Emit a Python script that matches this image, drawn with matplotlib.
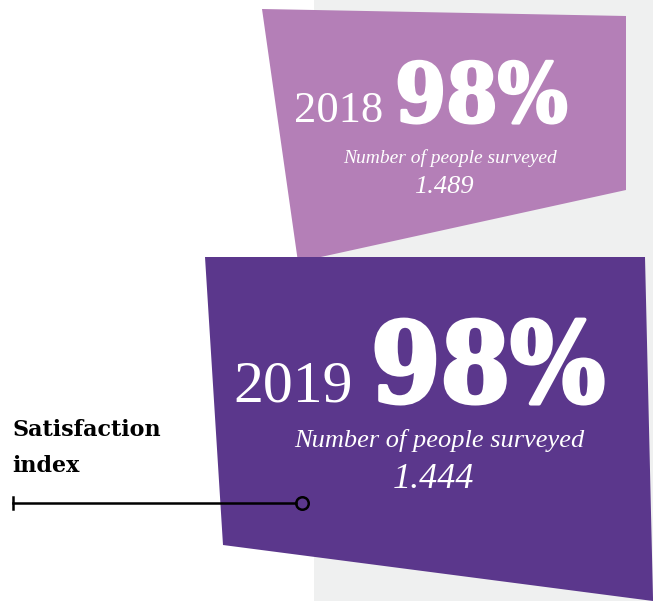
import matplotlib.pyplot as plt
import matplotlib.patheffects as pe
from matplotlib.patches import Polygon, Rectangle

# data
years = ["2018", "2019"]
satisfaction = ["98%", "98%"]
surveyed = ["1.489", "1.444"]
title = "Satisfaction\nindex"

light = "#b47fb7"
dark = "#5b378c"
grey = "#eff0f0"

fig = plt.figure(figsize=(6.53, 6.01), dpi=100)
ax = fig.add_axes([0, 0, 1, 1])
ax.set_xlim(0, 653)
ax.set_ylim(601, 0)
ax.axis("off")

# background panel
ax.add_patch(Rectangle((314, 0), 339, 601, color=grey, lw=0))

# card shapes
ax.add_patch(Polygon([(262, 9), (626, 16), (626, 190), (298, 262)], closed=True, color=light, lw=0))
ax.add_patch(Polygon([(205, 257), (645, 257), (653, 598), (653, 601), (223, 545)], closed=True, color=dark, lw=0))

# card text
cards = [
    dict(yx=383, y=122, px=395, ys=32, ps=59, cx=450, ny=158, nys=14, vy=187, vs=19, sw=2.0),
    dict(yx=353, y=402, px=371, ys=43, ps=80, cx=439, ny=440, nys=19, vy=480, vs=26, sw=2.8),
]
for yr, pct, n, c in zip(years, satisfaction, surveyed, cards):
    ax.text(c["yx"], c["y"], yr, ha="right", va="baseline", color="white",
            fontsize=c["ys"], family="Liberation Serif")
    ax.text(c["px"], c["y"], pct, ha="left", va="baseline", color="white",
            fontsize=c["ps"], family="DejaVu Serif", weight="bold", stretch="condensed",
            path_effects=[pe.withStroke(linewidth=c["sw"], foreground="white")])
    ax.text(c["cx"], c["ny"], "Number of people surveyed", ha="center", va="center",
            color="white", fontsize=c["nys"], family="Liberation Serif", style="italic")
    ax.text(c["cx"] - 6, c["vy"], n, ha="center", va="center",
            color="white", fontsize=c["vs"], family="Liberation Serif", style="italic")

# label and connector
ax.text(12, 419, title, ha="left", va="top", fontsize=16, family="DejaVu Serif",
        weight="bold", color="black", linespacing=1.85)
ax.plot([13, 296], [503, 503], color="black", lw=1.8)
ax.plot([13, 13], [497, 509], color="black", lw=1.8)
ax.plot([302], [503], marker="o", ms=9, mfc="none", mec="black", mew=1.8)

fig.savefig("out.png", dpi=100)
